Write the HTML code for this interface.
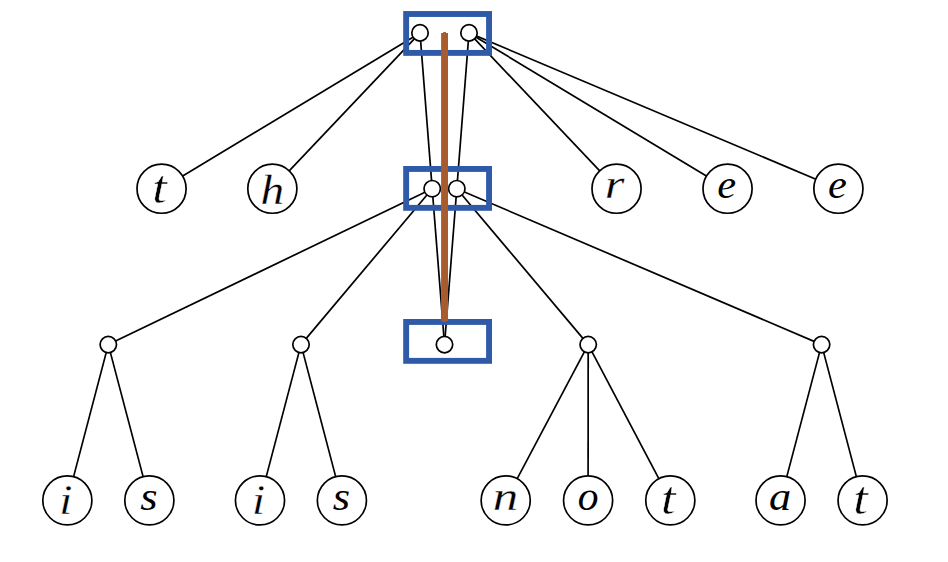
<!DOCTYPE html>
<html lang="en">
<head>
<meta charset="utf-8">
<title>Tree diagram</title>
<style>
html,body{margin:0;padding:0;background:#fff;}
body{width:948px;height:562px;overflow:hidden;}
svg{display:block;}
.e{stroke:#000;stroke-width:1.7;fill:none;}
.n{stroke:#000;stroke-width:1.7;fill:#fff;}
.b{stroke:#2f5aa8;stroke-width:5.9;fill:none;}
.br{stroke:#a85b2d;stroke-width:6.9;fill:none;}
text{font-family:"Liberation Serif","DejaVu Serif",serif;font-style:italic;fill:#000;}
</style>
</head>
<body>
<svg width="948" height="562" viewBox="0 0 948 562">
<rect width="948" height="562" fill="#fff"/>
<g class="e">
<line x1="420.00" y1="32.90" x2="161.55" y2="188.70"/>
<line x1="420.00" y1="32.90" x2="272.35" y2="188.70"/>
<line x1="420.00" y1="32.90" x2="432.20" y2="188.70"/>
<line x1="469.00" y1="32.90" x2="616.55" y2="188.70"/>
<line x1="469.00" y1="32.90" x2="727.55" y2="188.70"/>
<line x1="469.00" y1="32.90" x2="838.40" y2="188.70"/>
<line x1="469.00" y1="32.90" x2="456.80" y2="188.70"/>
<line x1="432.20" y1="188.70" x2="108.30" y2="344.60"/>
<line x1="432.20" y1="188.70" x2="301.00" y2="344.60"/>
<line x1="432.20" y1="188.70" x2="444.50" y2="344.60"/>
<line x1="456.80" y1="188.70" x2="588.20" y2="344.60"/>
<line x1="456.80" y1="188.70" x2="821.60" y2="344.60"/>
<line x1="456.80" y1="188.70" x2="444.50" y2="344.60"/>
<line x1="108.30" y1="344.60" x2="67.35" y2="500.40"/>
<line x1="108.30" y1="344.60" x2="149.35" y2="500.40"/>
<line x1="301.00" y1="344.60" x2="260.00" y2="500.40"/>
<line x1="301.00" y1="344.60" x2="341.90" y2="500.40"/>
<line x1="588.20" y1="344.60" x2="505.70" y2="500.40"/>
<line x1="588.20" y1="344.60" x2="588.10" y2="500.40"/>
<line x1="588.20" y1="344.60" x2="670.30" y2="500.40"/>
<line x1="821.60" y1="344.60" x2="780.55" y2="500.40"/>
<line x1="821.60" y1="344.60" x2="862.60" y2="500.40"/>
</g>
<g class="n">
<circle cx="420.00" cy="32.90" r="8.20"/>
<circle cx="469.00" cy="32.90" r="8.20"/>
<circle cx="432.20" cy="188.70" r="8.20"/>
<circle cx="456.80" cy="188.70" r="8.20"/>
<circle cx="444.50" cy="344.60" r="8.20"/>
<circle cx="108.30" cy="344.60" r="8.20"/>
<circle cx="301.00" cy="344.60" r="8.20"/>
<circle cx="588.20" cy="344.60" r="8.20"/>
<circle cx="821.60" cy="344.60" r="8.20"/>
<circle cx="161.55" cy="188.70" r="24.55"/>
<circle cx="272.35" cy="188.70" r="24.55"/>
<circle cx="616.55" cy="188.70" r="24.55"/>
<circle cx="727.55" cy="188.70" r="24.55"/>
<circle cx="838.40" cy="188.70" r="24.55"/>
<circle cx="67.35" cy="500.40" r="24.55"/>
<circle cx="149.35" cy="500.40" r="24.55"/>
<circle cx="260.00" cy="500.40" r="24.55"/>
<circle cx="341.90" cy="500.40" r="24.55"/>
<circle cx="505.70" cy="500.40" r="24.55"/>
<circle cx="588.10" cy="500.40" r="24.55"/>
<circle cx="670.30" cy="500.40" r="24.55"/>
<circle cx="780.55" cy="500.40" r="24.55"/>
<circle cx="862.60" cy="500.40" r="24.55"/>
</g>
<g class="b">
<rect x="406.15" y="14.00" width="82.90" height="38.90"/>
<rect x="406.15" y="168.95" width="82.90" height="38.90"/>
<rect x="406.15" y="321.95" width="82.90" height="38.90"/>
</g>
<line class="br" x1="444.55" y1="33" x2="444.55" y2="321.2"/>
<rect x="443.2" y="32" width="2.7" height="1.2" fill="#a85b2d"/>
<rect x="443.2" y="321" width="2.7" height="0.9" fill="#a85b2d"/>
<g>
<text transform="matrix(1.1200 0 0 1 152.31 202.54)" font-size="46.97" stroke="#fff" stroke-width="0.45">t</text>
<text transform="matrix(1.1200 0 0 1 260.48 203.80)" font-size="42.23" stroke="#fff" stroke-width="0.30">h</text>
<text transform="matrix(1.2391 0 0 1 604.65 198.40)" font-size="40.75" stroke="#fff" stroke-width="0.30">r</text>
<text transform="matrix(1.0757 0 0 1 717.19 198.01)" font-size="39.50">e</text>
<text transform="matrix(1.0757 0 0 1 828.04 198.01)" font-size="39.50">e</text>
<text transform="matrix(1.1500 0 0 1 59.05 514.30)" font-size="42.44" stroke="#fff" stroke-width="0.45">i</text>
<text transform="matrix(1.1200 0 0 1 140.25 509.91)" font-size="39.82">s</text>
<text transform="matrix(1.1500 0 0 1 251.70 514.30)" font-size="42.44" stroke="#fff" stroke-width="0.45">i</text>
<text transform="matrix(1.1200 0 0 1 332.80 509.91)" font-size="39.82">s</text>
<text transform="matrix(1.2500 0 0 1 492.64 510.20)" font-size="40.75" stroke="#fff" stroke-width="0.30">n</text>
<text transform="matrix(1.0490 0 0 1 577.86 509.81)" font-size="39.61">o</text>
<text transform="matrix(1.1200 0 0 1 661.06 514.24)" font-size="46.97" stroke="#fff" stroke-width="0.45">t</text>
<text transform="matrix(1.1200 0 0 1 769.03 509.79)" font-size="39.61">a</text>
<text transform="matrix(1.1200 0 0 1 853.36 514.24)" font-size="46.97" stroke="#fff" stroke-width="0.45">t</text>
</g>
</svg>
</body>
</html>
